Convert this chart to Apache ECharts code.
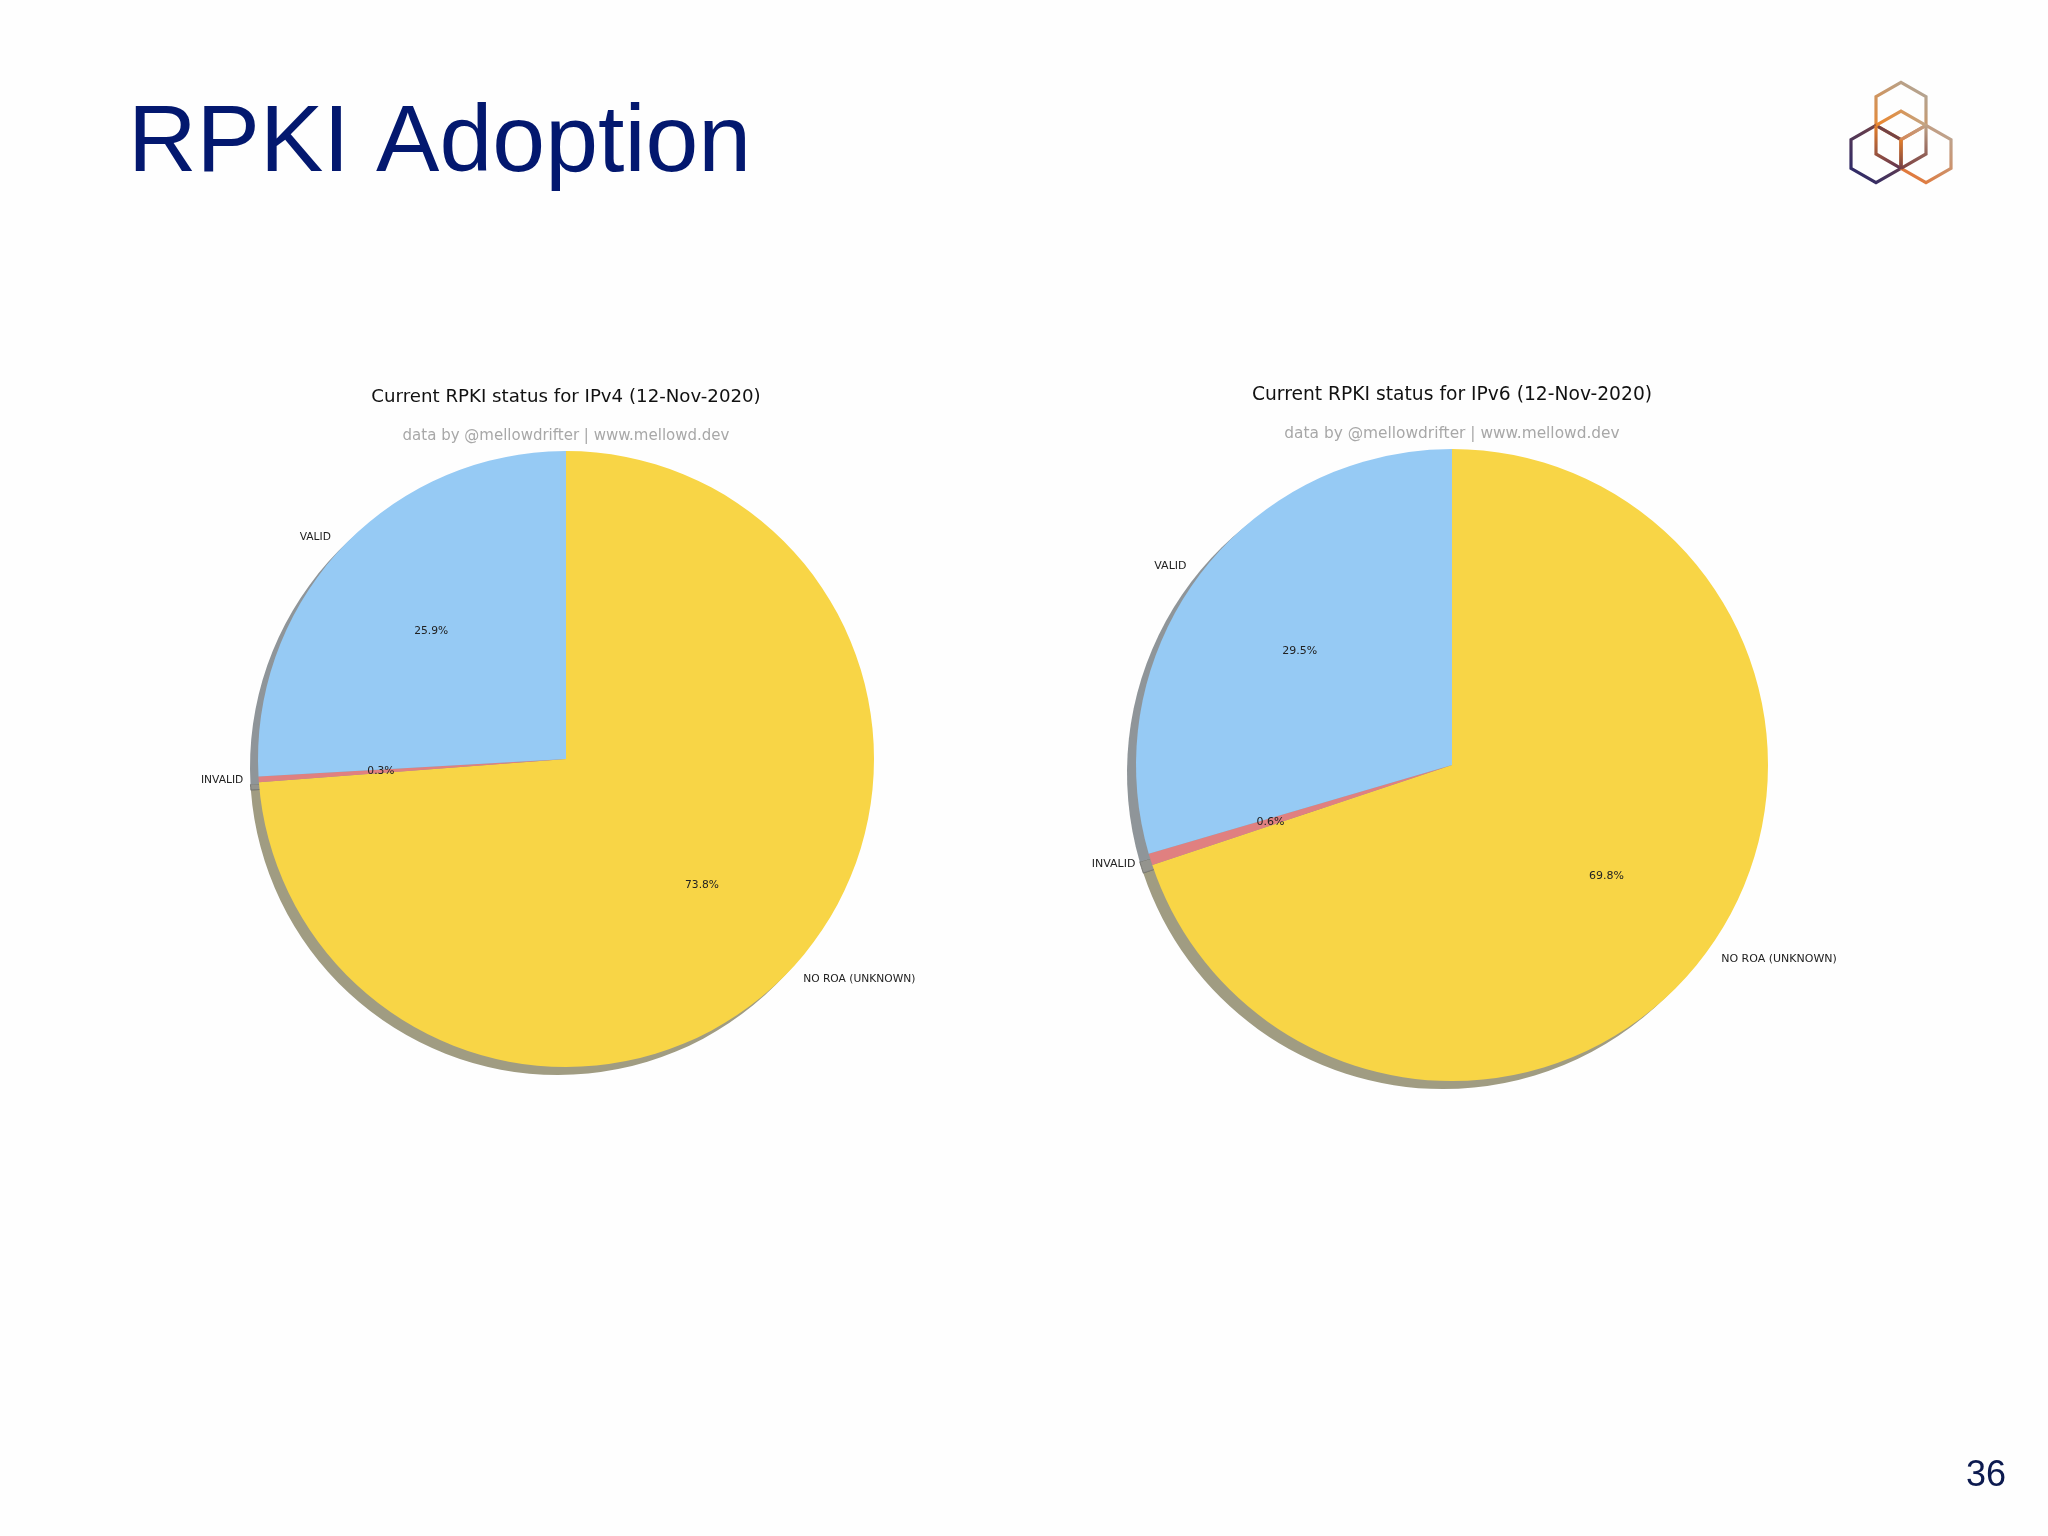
<!DOCTYPE html>
<html>
<head>
    <meta charset="utf-8">
    <script src="https://cdn.jsdelivr.net/npm/echarts@6/dist/echarts.min.js"></script>
    <style>
        html, body { margin: 0; background: #fff; }
        #main { width: 2048px; height: 1536px; }
    </style>
</head>
<body>
<div id="main"></div>
<script>
    // slices run clockwise from 12 o'clock
    var statusNames = ['NO ROA (UNKNOWN)', 'INVALID', 'VALID'];
    var ipv4Share = [73.8, 0.3, 25.9];
    var ipv6Share = [69.8, 0.6, 29.5];
    var sliceColors = ['#f8d546', '#e08080', '#96caf4'];
    var shadowColors = ['#a09c82', '#94948e', '#8f9599'];

    var plotFont = 'DejaVu Sans';

    function toData(values, colors) {
        return values.map(function (v, i) {
            return { name: statusNames[i], value: v, itemStyle: { color: colors[i] } };
        });
    }

    // one pie = shadow + wedges with the outer names + invisible ring that holds the % labels
    function pieSeries(values, cx, cy, r, shadowDx, shadowDy, labelSize) {
        var base = { type: 'pie', startAngle: 90, clockwise: true, animation: false, silent: true, avoidLabelOverlap: false };
        return [
            Object.assign({}, base, {
                center: [cx + shadowDx, cy + shadowDy],
                radius: [0, r],
                label: { show: false },
                labelLine: { show: false },
                data: toData(values, shadowColors).map(function (d) {
                    if (d.name === 'INVALID') {
                        d.itemStyle.borderColor = '#66665f';
                        d.itemStyle.borderWidth = 0.8;
                    }
                    return d;
                })
            }),
            Object.assign({}, base, {
                center: [cx, cy],
                radius: [0, r],
                label: {
                    show: true, position: 'outside', formatter: '{b}', distanceToLabelLine: 0,
                    fontFamily: plotFont, fontSize: labelSize, color: '#222'
                },
                labelLine: { show: false, length: r * 0.05, length2: 0 },
                data: toData(values, sliceColors)
            }),
            Object.assign({}, base, {
                center: [cx, cy],
                radius: [r * 0.185, r],   // labels sit at mid radius
                label: {
                    show: true, position: 'inside', formatter: '{c}%', rotate: 0,
                    fontFamily: plotFont, fontSize: labelSize, color: '#222'
                },
                labelLine: { show: false },
                data: toData(values, ['transparent', 'transparent', 'transparent'])
            })
        ];
    }

    function plotTitle(text, x, y, size, color) {
        return {
            text: text, left: x - 5, top: y, textAlign: 'center',
            textStyle: { fontFamily: plotFont, fontSize: size, fontWeight: 'normal', color: color }
        };
    }

    // RIPE NCC style logo, outlined hexagons with a colour run along each stroke
    function hexPoints(cx, cy) {
        var w = 25, s = 28.6;
        return [[cx, cy - s], [cx + w, cy - s / 2], [cx + w, cy + s / 2],
            [cx, cy + s], [cx - w, cy + s / 2], [cx - w, cy - s / 2]];
    }

    function stroke(points, closed, c1, c2, x1, y1, x2, y2) {
        return {
            type: closed ? 'polygon' : 'polyline',
            shape: { points: points },
            style: {
                fill: 'none', lineWidth: 3.2,
                stroke: new echarts.graphic.LinearGradient(x1, y1, x2, y2, [
                    { offset: 0, color: c1 }, { offset: 1, color: c2 }
                ])
            }
        };
    }

    var mid = hexPoints(1901, 139.7);
    var logo = [
        stroke(hexPoints(1901, 111), true, '#ee8427', '#a9a9a4', 0, 1, 1, 0),
        stroke(hexPoints(1876, 154), true, '#1f2570', '#8a4a3a', 0, 1, 1, 0),
        stroke(hexPoints(1926, 154), true, '#ea6f27', '#b5aca0', 0, 1, 1, 0),
        stroke([mid[5], mid[0], mid[1]], false, '#ee8427', '#c0a78a', 0, 0, 1, 0),
        stroke([mid[1], mid[2], mid[3]], false, '#c0a78a', '#7a3d3f', 0, 0, 0, 1),
        stroke([mid[5], mid[4], mid[3]], false, '#ee8427', '#5f3350', 0, 0, 0.6, 1),
        stroke([[1901, 139.7], [1901, 168.3]], false, '#ee8427', '#6a3a48', 0, 0, 0, 1)
    ];

    var myChart = echarts.init(document.getElementById('main'));
    var option = {
        backgroundColor: '#fefefe',
        title: [
            {
                text: 'RPKI Adoption', left: 123, top: 92,
                textStyle: { fontFamily: 'Liberation Sans', fontSize: 95, fontWeight: 'normal', color: '#03186f' }
            },
            plotTitle('Current RPKI status for IPv4 (12-Nov-2020)', 566, 383.5, 18.2, '#111'),
            plotTitle('data by @mellowdrifter | www.mellowd.dev', 566, 423.5, 15, '#a8a8a8'),
            plotTitle('Current RPKI status for IPv6 (12-Nov-2020)', 1452, 381, 18.7, '#111'),
            plotTitle('data by @mellowdrifter | www.mellowd.dev', 1452, 421, 15.4, '#a8a8a8'),
            {
                text: '36', left: 1961, top: 1453,
                textStyle: { fontFamily: 'Liberation Sans', fontSize: 36, fontWeight: 'normal', color: '#0c1a4f' }
            }
        ],
        graphic: logo,
        series: [].concat(
            pieSeries(ipv4Share, 566, 759, 308, -8, 8, 10.7),
            pieSeries(ipv6Share, 1452, 765, 316, -9, 8, 11)
        )
    };
    myChart.setOption(option);
</script>
</body>
</html>
